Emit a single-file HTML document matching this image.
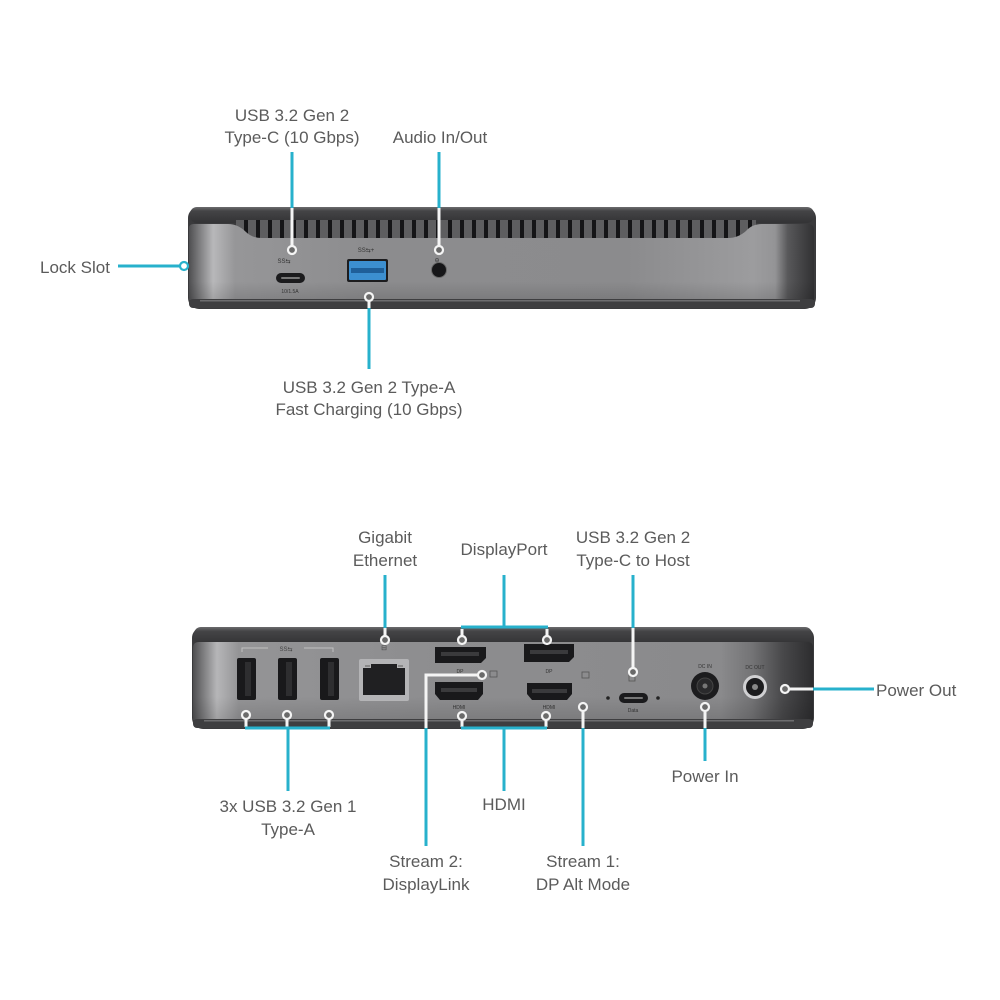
<!DOCTYPE html>
<html><head><meta charset="utf-8">
<style>
html,body{margin:0;padding:0;background:#fff;}
svg{display:block;}
text{font-family:"Liberation Sans",sans-serif;fill:#5b5b5b;}
.lbl{font-size:17px;}
</style></head>
<body>
<svg width="1000" height="1000" viewBox="0 0 1000 1000" xmlns="http://www.w3.org/2000/svg">
<defs>
<linearGradient id="faceT" x1="188" y1="0" x2="816" y2="0" gradientUnits="userSpaceOnUse">
<stop offset="0" stop-color="#4a4a4c"/>
<stop offset="0.015" stop-color="#747476"/>
<stop offset="0.04" stop-color="#b8b8ba"/>
<stop offset="0.075" stop-color="#969698"/>
<stop offset="0.3" stop-color="#8c8c8e"/>
<stop offset="0.7" stop-color="#8b8b8d"/>
<stop offset="0.9" stop-color="#9c9c9e"/>
<stop offset="0.935" stop-color="#949496"/>
<stop offset="0.955" stop-color="#58585a"/>
<stop offset="1" stop-color="#2e2e30"/>
</linearGradient>
<linearGradient id="faceB" x1="192" y1="0" x2="814" y2="0" gradientUnits="userSpaceOnUse">
<stop offset="0" stop-color="#4a4a4c"/>
<stop offset="0.015" stop-color="#747476"/>
<stop offset="0.04" stop-color="#b6b6b8"/>
<stop offset="0.075" stop-color="#949496"/>
<stop offset="0.4" stop-color="#8d8d8f"/>
<stop offset="0.85" stop-color="#8a8a8c"/>
<stop offset="0.9" stop-color="#747476"/>
<stop offset="0.95" stop-color="#48484a"/>
<stop offset="1" stop-color="#2c2c2e"/>
</linearGradient>
<linearGradient id="shadeV" x1="0" y1="0" x2="0" y2="1">
<stop offset="0" stop-color="#000" stop-opacity="0"/>
<stop offset="0.7" stop-color="#000" stop-opacity="0"/>
<stop offset="1" stop-color="#000" stop-opacity="0.12"/>
</linearGradient>
<linearGradient id="lidV" x1="0" y1="0" x2="0" y2="1">
<stop offset="0" stop-color="#6c6c6e"/>
<stop offset="0.25" stop-color="#444446"/>
<stop offset="1" stop-color="#333335"/>
</linearGradient>
<pattern id="vents" x="240" y="0" width="12" height="40" patternUnits="userSpaceOnUse">
<rect x="0" y="0" width="12" height="40" fill="#5e5e60"/>
<rect x="4" y="0" width="4" height="40" fill="#151517"/>
</pattern>
</defs>

<!-- ================= TOP DEVICE ================= -->
<rect x="188" y="207" width="628" height="102" rx="11" fill="#3a3a3c"/>
<rect x="190" y="207" width="624" height="16" rx="7" fill="url(#lidV)"/>
<rect x="236" y="220" width="520" height="19" fill="url(#vents)"/>
<path d="M189 228 Q189 224 194 224 L228 224 Q238 224 246 232 Q252 238 262 238 L728 238 Q738 238 746 231 Q752 224 762 224 L808 224 Q814 224 814 230 L814 300 L189 300 Z" fill="url(#faceT)"/>
<rect x="189" y="238" width="625" height="62" fill="url(#shadeV)"/>
<rect x="189" y="299" width="626" height="9" rx="4" fill="#3e3e40"/>
<rect x="200" y="300" width="600" height="1.5" fill="#6d6d6f"/>
<!-- usb-c -->
<rect x="276" y="273" width="29" height="10" rx="5" fill="#1b1b1d"/>
<rect x="281" y="277" width="19" height="2" rx="1" fill="#777"/>
<text x="290" y="293" font-size="5" text-anchor="middle" style="fill:#333">10/1.5A</text>
<text x="284" y="263" font-size="6" text-anchor="middle" style="fill:#333">SS⇆</text>
<!-- usb-a blue -->
<rect x="347" y="259" width="41" height="23" rx="2" fill="#1c1c1e"/>
<rect x="349" y="261" width="37" height="19" rx="1" fill="#3c8fd0"/>
<rect x="351" y="268" width="33" height="5" fill="#1f5f99"/>
<text x="366" y="252" font-size="6" text-anchor="middle" style="fill:#333">SS⇆+</text>
<!-- audio -->
<circle cx="439" cy="270" r="7.5" fill="#161618" stroke="#6a6a6a" stroke-width="1"/>
<text x="437" y="262" font-size="6" text-anchor="middle" style="fill:#333">⊖</text>

<!-- top connectors -->
<g stroke-width="3" fill="none" stroke-linecap="butt">
<line x1="292" y1="152" x2="292" y2="208" stroke="#27b1cc"/>
<line x1="292" y1="208" x2="292" y2="246" stroke="#f4f4f4"/>
<line x1="439" y1="152" x2="439" y2="208" stroke="#27b1cc"/>
<line x1="439" y1="208" x2="439" y2="246" stroke="#f4f4f4"/>
<line x1="369" y1="301" x2="369" y2="308" stroke="#f4f4f4"/>
<line x1="369" y1="308" x2="369" y2="369" stroke="#27b1cc"/>
<line x1="118" y1="266" x2="180" y2="266" stroke="#27b1cc"/>
</g>
<g stroke-width="2.2" fill="#6a6a6a">
<circle cx="292" cy="250" r="4" stroke="#f4f4f4"/>
<circle cx="439" cy="250" r="4" stroke="#f4f4f4"/>
<circle cx="369" cy="297" r="4" stroke="#f4f4f4"/>
<circle cx="184" cy="266" r="4" stroke="#27b1cc" fill="#fff"/>
</g>

<!-- top labels -->
<text class="lbl" x="292" y="121" text-anchor="middle">USB 3.2 Gen 2</text>
<text class="lbl" x="292" y="143" text-anchor="middle">Type-C (10 Gbps)</text>
<text class="lbl" x="440" y="143" text-anchor="middle">Audio In/Out</text>
<text class="lbl" x="40" y="273">Lock Slot</text>
<text class="lbl" x="369" y="393" text-anchor="middle">USB 3.2 Gen 2 Type-A</text>
<text class="lbl" x="369" y="415" text-anchor="middle">Fast Charging (10 Gbps)</text>

<!-- ================= BOTTOM DEVICE ================= -->
<rect x="192" y="627" width="622" height="102" rx="11" fill="#3a3a3c"/>
<rect x="194" y="627" width="618" height="17" rx="7" fill="url(#lidV)"/>
<path d="M193 648 Q193 642 199 642 L808 642 Q813 642 813 648 L813 720 L193 720 Z" fill="url(#faceB)"/>
<rect x="193" y="642" width="620" height="78" fill="url(#shadeV)"/>
<rect x="193" y="719" width="620" height="9" rx="4" fill="#3e3e40"/>
<rect x="204" y="720" width="590" height="1.5" fill="#6d6d6f"/>
<!-- SS bracket -->
<path d="M242 652 L242 648 L268 648 M304 648 L333 648 L333 652" stroke="#c0c0c0" stroke-width="1" fill="none"/>
<text x="286" y="651" font-size="6" text-anchor="middle" style="fill:#444">SS⇆</text>
<!-- usb-a x3 -->
<g>
<rect x="237" y="658" width="19" height="42" rx="2" fill="#19191b"/>
<rect x="245" y="662" width="6" height="34" fill="#2e2e30"/>
<rect x="278" y="658" width="19" height="42" rx="2" fill="#19191b"/>
<rect x="286" y="662" width="6" height="34" fill="#2e2e30"/>
<rect x="320" y="658" width="19" height="42" rx="2" fill="#19191b"/>
<rect x="328" y="662" width="6" height="34" fill="#2e2e30"/>
</g>
<!-- ethernet -->
<rect x="359" y="659" width="50" height="42" rx="2" fill="#b4b4b6"/>
<path d="M363 668 L371 668 L371 664 L397 664 L397 668 L405 668 L405 695 L363 695 Z" fill="#202022"/>
<rect x="365" y="665" width="5" height="2" fill="#888"/>
<rect x="398" y="665" width="5" height="2" fill="#888"/>
<text x="384" y="650" font-size="7" text-anchor="middle" style="fill:#444">⊟</text>
<!-- DP left -->
<path d="M435 647 L486 647 L486 658 L481 663 L435 663 Z" fill="#19191b"/>
<rect x="441" y="652" width="38" height="4" fill="#3a3a3c"/>
<text x="460" y="673" font-size="5" text-anchor="middle" style="fill:#333">DP</text>
<!-- HDMI left -->
<path d="M435 682 L483 682 L483 694 L478 700 L440 700 L435 694 Z" fill="#19191b"/>
<rect x="441" y="688" width="36" height="4" fill="#3a3a3c"/>
<text x="459" y="709" font-size="5" text-anchor="middle" style="fill:#333">HDMI</text>
<rect x="490" y="671" width="7" height="6" fill="none" stroke="#555" stroke-width="0.8"/>
<!-- DP right -->
<path d="M524 644 L574 644 L574 657 L569 662 L524 662 Z" fill="#19191b"/>
<rect x="530" y="650" width="38" height="4" fill="#3a3a3c"/>
<text x="549" y="673" font-size="5" text-anchor="middle" style="fill:#333">DP</text>
<!-- HDMI right -->
<path d="M527 683 L572 683 L572 694 L567 700 L532 700 L527 694 Z" fill="#19191b"/>
<rect x="532" y="689" width="35" height="4" fill="#3a3a3c"/>
<text x="549" y="709" font-size="5" text-anchor="middle" style="fill:#333">HDMI</text>
<rect x="582" y="672" width="7" height="6" fill="none" stroke="#555" stroke-width="0.8"/>
<!-- usb-c host -->
<circle cx="608" cy="698" r="1.8" fill="#222"/>
<circle cx="658" cy="698" r="1.8" fill="#222"/>
<rect x="619" y="693" width="29" height="10" rx="5" fill="#1b1b1d"/>
<rect x="624" y="697" width="19" height="2" rx="1" fill="#777"/>
<text x="633" y="712" font-size="5" text-anchor="middle" style="fill:#333">Data</text>
<rect x="629" y="675" width="6" height="6" fill="none" stroke="#555" stroke-width="0.8"/>
<!-- DC IN -->
<text x="705" y="668" font-size="5" text-anchor="middle" style="fill:#333">DC IN</text>
<circle cx="705" cy="686" r="14" fill="#1c1c1e"/>
<circle cx="705" cy="686" r="8" fill="#2a2a2c" stroke="#444" stroke-width="1"/>
<circle cx="705" cy="686" r="2.5" fill="#777"/>
<!-- DC OUT -->
<text x="755" y="669" font-size="5" text-anchor="middle" style="fill:#333">DC OUT</text>
<circle cx="755" cy="687" r="12" fill="#d0d0d2"/>
<circle cx="755" cy="687" r="9" fill="#1c1c1e"/>
<circle cx="755" cy="687" r="3" fill="#888"/>

<!-- bottom connectors -->
<g stroke-width="3" fill="none">
<line x1="385" y1="575" x2="385" y2="628" stroke="#27b1cc"/>
<line x1="385" y1="628" x2="385" y2="636" stroke="#f4f4f4"/>
<line x1="504" y1="575" x2="504" y2="627" stroke="#27b1cc"/>
<line x1="461" y1="627" x2="548" y2="627" stroke="#27b1cc"/>
<line x1="462" y1="629" x2="462" y2="636" stroke="#f4f4f4"/>
<line x1="547" y1="629" x2="547" y2="636" stroke="#f4f4f4"/>
<line x1="633" y1="575" x2="633" y2="628" stroke="#27b1cc"/>
<line x1="633" y1="628" x2="633" y2="668" stroke="#f4f4f4"/>
<line x1="246" y1="719" x2="246" y2="727" stroke="#f4f4f4"/>
<line x1="287" y1="719" x2="287" y2="727" stroke="#f4f4f4"/>
<line x1="329" y1="719" x2="329" y2="727" stroke="#f4f4f4"/>
<line x1="245" y1="728" x2="330" y2="728" stroke="#27b1cc"/>
<line x1="288" y1="728" x2="288" y2="791" stroke="#27b1cc"/>
<line x1="462" y1="720" x2="462" y2="727" stroke="#f4f4f4"/>
<line x1="546" y1="720" x2="546" y2="727" stroke="#f4f4f4"/>
<line x1="461" y1="728" x2="547" y2="728" stroke="#27b1cc"/>
<line x1="504" y1="728" x2="504" y2="791" stroke="#27b1cc"/>
<polyline points="478,675 426,675 426,728" stroke="#f4f4f4"/>
<line x1="426" y1="728" x2="426" y2="846" stroke="#27b1cc"/>
<line x1="583" y1="711" x2="583" y2="728" stroke="#f4f4f4"/>
<line x1="583" y1="728" x2="583" y2="846" stroke="#27b1cc"/>
<line x1="705" y1="711" x2="705" y2="728" stroke="#f4f4f4"/>
<line x1="705" y1="728" x2="705" y2="761" stroke="#27b1cc"/>
<line x1="789" y1="689" x2="813" y2="689" stroke="#f4f4f4"/>
<line x1="813" y1="689" x2="874" y2="689" stroke="#27b1cc"/>
</g>
<g stroke-width="2.2" fill="#6a6a6a" stroke="#f4f4f4">
<circle cx="385" cy="640" r="4"/>
<circle cx="462" cy="640" r="4"/>
<circle cx="547" cy="640" r="4"/>
<circle cx="633" cy="672" r="4"/>
<circle cx="246" cy="715" r="4"/>
<circle cx="287" cy="715" r="4"/>
<circle cx="329" cy="715" r="4"/>
<circle cx="462" cy="716" r="4"/>
<circle cx="546" cy="716" r="4"/>
<circle cx="482" cy="675" r="4"/>
<circle cx="583" cy="707" r="4"/>
<circle cx="705" cy="707" r="4"/>
<circle cx="785" cy="689" r="4"/>
</g>

<!-- bottom labels -->
<text class="lbl" x="385" y="543" text-anchor="middle">Gigabit</text>
<text class="lbl" x="385" y="566" text-anchor="middle">Ethernet</text>
<text class="lbl" x="504" y="555" text-anchor="middle">DisplayPort</text>
<text class="lbl" x="633" y="543" text-anchor="middle">USB 3.2 Gen 2</text>
<text class="lbl" x="633" y="566" text-anchor="middle">Type-C to Host</text>
<text class="lbl" x="876" y="696">Power Out</text>
<text class="lbl" x="705" y="782" text-anchor="middle">Power In</text>
<text class="lbl" x="288" y="812" text-anchor="middle">3x USB 3.2 Gen 1</text>
<text class="lbl" x="288" y="835" text-anchor="middle">Type-A</text>
<text class="lbl" x="504" y="810" text-anchor="middle">HDMI</text>
<text class="lbl" x="426" y="867" text-anchor="middle">Stream 2:</text>
<text class="lbl" x="426" y="890" text-anchor="middle">DisplayLink</text>
<text class="lbl" x="583" y="867" text-anchor="middle">Stream 1:</text>
<text class="lbl" x="583" y="890" text-anchor="middle">DP Alt Mode</text>
</svg>
</body></html>
